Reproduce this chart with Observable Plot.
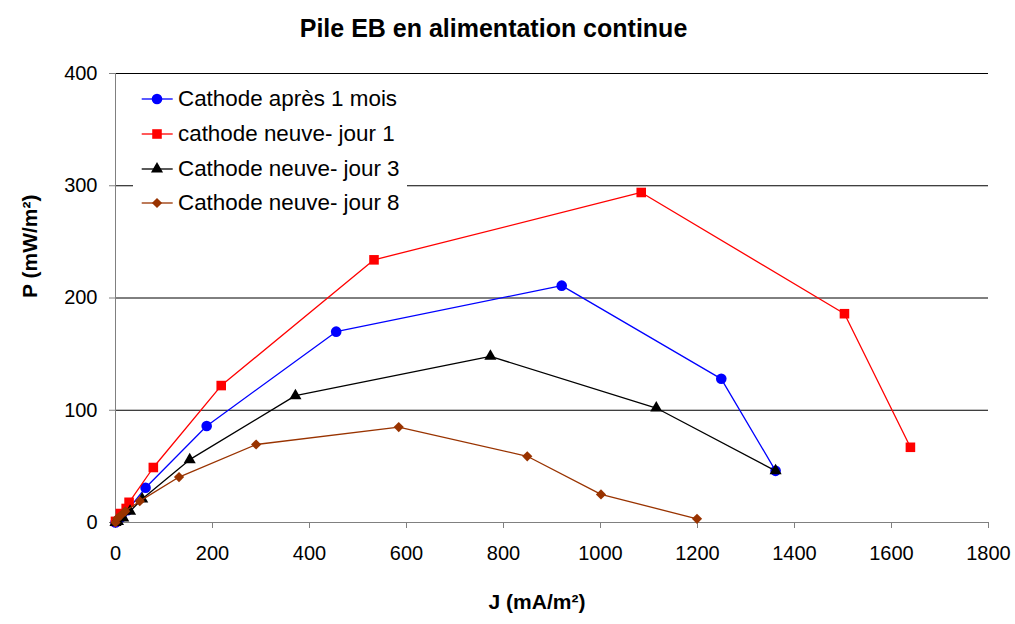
<!DOCTYPE html>
<html><head><meta charset="utf-8">
<script src="https://cdn.jsdelivr.net/npm/d3@7"></script>
<script src="https://cdn.jsdelivr.net/npm/@observablehq/plot@0.6"></script>
<style>
body{margin:0;background:#fff;font-family:"Liberation Sans",Arial,sans-serif;}
#wrap{position:relative;width:1015px;height:624px;overflow:hidden;}
#title{box-sizing:border-box;height:50px;padding-top:16px;padding-right:28px;width:1015px;text-align:center;font-weight:bold;font-size:25px;line-height:25px;color:#000;}
#legend{position:absolute;left:133px;top:82px;width:274px;background:#fff;}
.row{display:flex;align-items:center;height:34.7px;font-size:22.4px;color:#000;white-space:nowrap;}
.row svg{flex:none;}
</style></head><body>
<div id="wrap"><div id="title">Pile EB en alimentation continue</div><div id="chart"></div><div id="legend"></div></div>
<script>
// Data
const seriesNames = ["Cathode après 1 mois", "cathode neuve- jour 1", "Cathode neuve- jour 3", "Cathode neuve- jour 8"];
const seriesColors = ["#0000FF", "#FF0000", "#000000", "#993300"];
const seriesSymbols = ["circle", "square", "triangle", "diamond2"];
const seriesR = [5.3, 5.4, 4.5, 4.6];

const blueJ = [0, 4, 12, 25, 62, 188, 455, 920, 1249, 1361];
const blueP = [0, 1.5, 5, 11, 31, 86, 170, 211, 128, 46];
const redJ = [0, 10, 22, 28, 78, 218, 533, 1084, 1503, 1639];
const redP = [1, 8, 12.5, 18, 49, 122, 234, 294, 186, 67];
const blackJ = [0, 5, 16, 30, 55, 153, 371, 773, 1115, 1361];
const blackP = [0, 1, 4, 10, 21, 56, 113, 148, 102, 46];
const brownJ = [0, 3.5, 10, 20, 50, 131, 290, 584, 849, 1001, 1199];
const brownP = [0, 3.5, 6, 10, 19, 40.5, 69.5, 85, 59, 25, 3.3];

const xTicks = [0, 200, 400, 600, 800, 1000, 1200, 1400, 1600, 1800];
const yTicks = [0, 100, 200, 300, 400];
const titleText = "Pile EB en alimentation continue";
const xLabel = "J (mA/m²)";
const yLabel = "P (mW/m²)";

const allJ = [blueJ, redJ, blackJ, brownJ];
const allP = [blueP, redP, blackP, brownP];
const tables = allJ.map((J, i) => J.map((j, k) => ({J: j, P: allP[i][k], s: seriesNames[i]})));

const axisColor = "#808080";
const marks = [
  Plot.gridY(yTicks.filter(d => d > 0), {stroke: "#000", strokeOpacity: 1, strokeWidth: 1}),
  Plot.ruleX([0], {stroke: axisColor}),
  Plot.ruleY([0], {stroke: axisColor}),
  Plot.axisX({ticks: xTicks, tickFormat: d => String(d), tickSize: 6, tickPadding: 17, stroke: axisColor, label: null, fontSize: 20, color: "#000"}),
  Plot.axisY({ticks: yTicks, tickFormat: d => String(d), tickSize: 6, tickPadding: 12, stroke: axisColor, label: null, fontSize: 20}),
  Plot.text([xLabel], {frameAnchor: "bottom", dy: 86, dx: -15, fontWeight: "bold", fontSize: 21, fill: "#000"}),
  Plot.text([yLabel], {frameAnchor: "left", dx: -85, rotate: -90, fontWeight: "bold", fontSize: 21, fill: "#000"})
];
tables.forEach((t, i) => {
  marks.push(Plot.line(t, {x: "J", y: "P", stroke: seriesColors[i], strokeWidth: 1.3}));
  marks.push(Plot.dot(t, {x: "J", y: "P", symbol: () => seriesSymbols[i], r: seriesR[i], fill: seriesColors[i], stroke: "none"}));
});

const chart = Plot.plot({
  width: 1015, height: 574,
  marginLeft: 115, marginRight: 27, marginTop: 23, marginBottom: 102,
  style: {fontFamily: "'Liberation Sans', Arial, sans-serif", fontSize: "20px", color: "#000", background: "#fff"},
  x: {domain: [0, 1800]},
  y: {domain: [0, 400]},
  symbol: {type: "identity"},
  marks
});
document.getElementById("chart").appendChild(chart);

// Legend
const leg = d3.select("#legend");
const symTypes = {circle: d3.symbolCircle, square: d3.symbolSquare, triangle: d3.symbolTriangle, diamond2: d3.symbolDiamond2};
seriesNames.forEach((name, i) => {
  const row = leg.append("div").attr("class", "row");
  const svg = row.append("svg").attr("width", 45).attr("height", 20);
  svg.append("line").attr("x1", 8.7).attr("x2", 39.7).attr("y1", 10).attr("y2", 10)
    .attr("stroke", seriesColors[i]).attr("stroke-width", 1.3);
  svg.append("path").attr("transform", "translate(24,10)")
    .attr("d", d3.symbol(symTypes[seriesSymbols[i]], seriesR[i] * seriesR[i] * Math.PI)())
    .attr("fill", seriesColors[i]);
  row.append("span").text(name);
});
</script>
</body></html>
